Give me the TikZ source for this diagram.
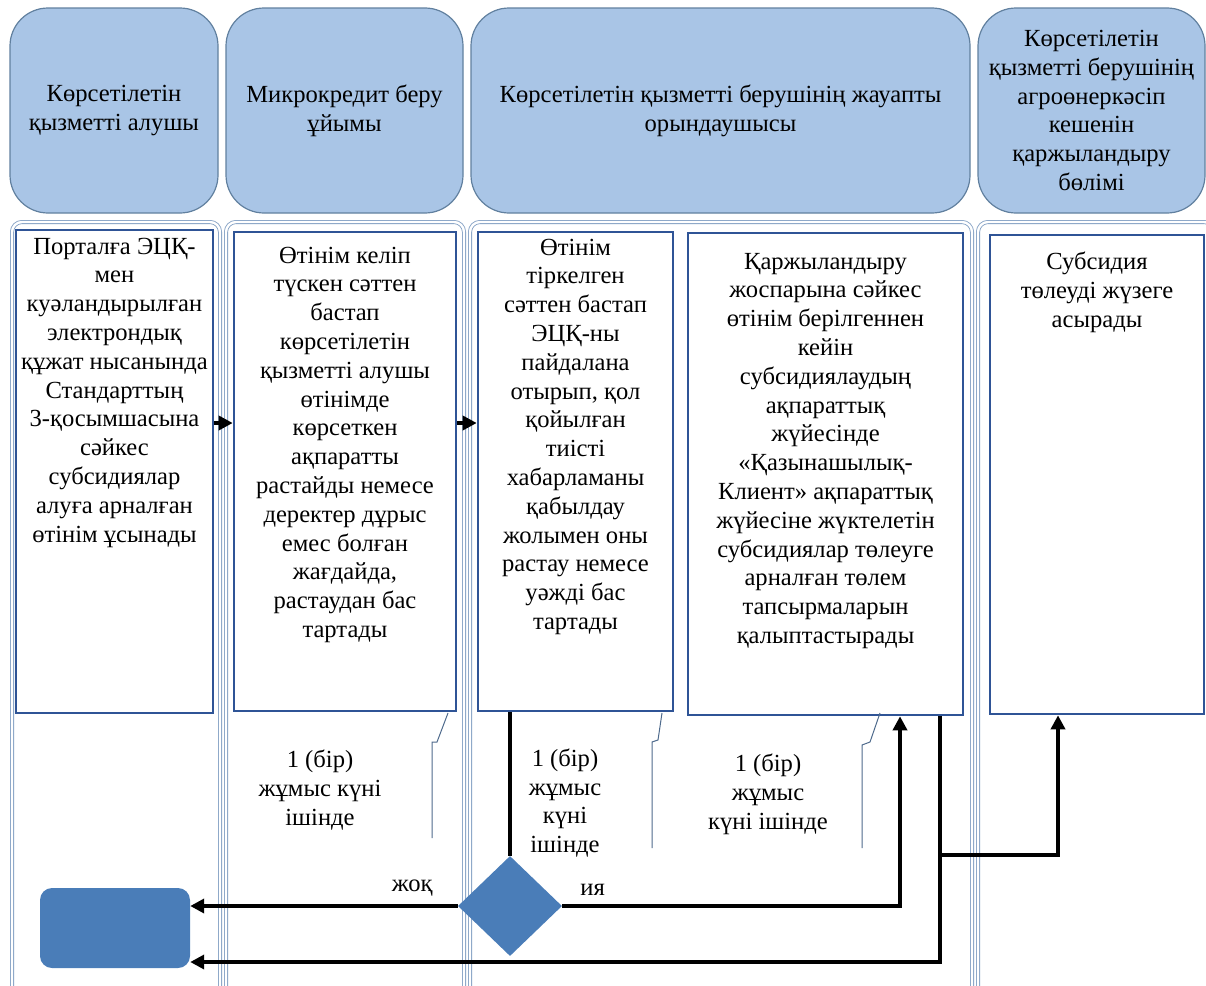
\documentclass[tikz,border=0pt]{standalone}
\usepackage{fontspec}
\setmainfont{Liberation Serif}
\newfontfamily\kzfont{Liberation Serif}
\usetikzlibrary{positioning,shapes.geometric,arrows.meta}

\definecolor{headfill}{HTML}{A9C5E6}
\definecolor{headline}{HTML}{61809F}
\definecolor{laneline}{HTML}{7F9DC2}
\definecolor{boxline}{HTML}{2F5496}
\definecolor{shapefill}{HTML}{4A7DB8}
\definecolor{calline}{HTML}{4E6A8C}

\tikzset{
  head/.style={draw=headline, line width=1.2pt, fill=headfill, rounded corners=38pt, align=center, inner sep=0pt},
  lane/.style={draw=laneline, line width=0.8pt, double=white, double distance=2.4pt, rounded corners=10pt},
  inbox/.style={draw=boxline, line width=2.6pt, fill=white, inner sep=0pt},
  txt/.style={align=center, inner sep=0pt},
  arr/.style={line width=3.6pt, -{Triangle[length=14pt,width=14pt]}},
  link/.style={line width=3.6pt},
  callout/.style={draw=calline, line width=1pt},
  endshape/.style={fill=shapefill, inner sep=0pt}
}

\begin{document}
\begin{tikzpicture}[x=1pt, y=-1pt, font=\kzfont\fontsize{24.6}{28.8}\selectfont]
    \useasboundingbox (0,0) rectangle (1206,985);
    \clip (0,0) rectangle (1206,985);
    % swim lanes
    \draw[lane] (12,222) rectangle (220,1010);
    \draw[lane] (226,222) rectangle (464,1010);
    \draw[lane] (470,222) rectangle (972,1010);
    \draw[lane] (978,222) rectangle (1214,1010);

    % lane heads
    \node[head, minimum width=208pt, minimum height=205pt] (h1) at (114,110.5) {Көрсетілетін\\қызметті алушы};
    \node[head, minimum width=237pt, minimum height=205pt] (h2) at (344.5,110.5) {Микрокредит беру\\ұйымы};
    \node[head, minimum width=499pt, minimum height=205pt] (h3) at (720.5,110.5) {Көрсетілетін қызметті берушінің жауапты\\орындаушысы};
    \node[head, minimum width=227pt, minimum height=205pt] (h4) at (1091.5,110.5) {Көрсетілетін\\қызметті берушінің\\агроөнеркәсіп\\кешенін\\қаржыландыру\\бөлімі};

    % steps
    \node[inbox, minimum width=197pt, minimum height=483pt] (a) at (114.5,471.5) {};
    \node[inbox, minimum width=222pt, minimum height=479pt] (b) at (345,471.5) {};
    \node[inbox, minimum width=195pt, minimum height=479pt] (c) at (575.5,471.5) {};
    \node[inbox, minimum width=275pt, minimum height=482pt] (d) at (825.5,474) {};
    \node[inbox, minimum width=214pt, minimum height=479pt] (e) at (1097,474.5) {};

    \node[txt, below=9pt of a.north] (at) {Порталға ЭЦҚ-\\мен\\куәландырылған\\электрондық\\құжат нысанында\\Стандарттың\\3-қосымшасына\\сәйкес\\субсидиялар\\алуға арналған\\өтінім ұсынады};
    \node[txt, below=16pt of b.north] (bt) {Өтінім келіп\\түскен сәттен\\бастап\\көрсетілетін\\қызметті алушы\\өтінімде\\көрсеткен\\ақпаратты\\растайды немесе\\деректер дұрыс\\емес болған\\жағдайда,\\растаудан бас\\тартады};
    \node[txt, below=8pt of c.north] (ct) {Өтінім\\тіркелген\\сәттен бастап\\ЭЦҚ-ны\\пайдалана\\отырып, қол\\қойылған\\тиісті\\хабарламаны\\қабылдау\\жолымен оны\\растау немесе\\уәжді бас\\тартады};
    \node[txt, below=21pt of d.north] (dt) {Қаржыландыру\\жоспарына сәйкес\\өтінім берілгеннен\\кейін\\субсидиялаудың\\ақпараттық\\жүйесінде\\«Қазынашылық-\\Клиент» ақпараттық\\жүйесіне жүктелетін\\субсидиялар төлеуге\\арналған төлем\\тапсырмаларын\\қалыптастырады};
    \node[txt, below=18pt of e.north] (et) {Субсидия\\төлеуді жүзеге\\асырады};

    \node[diamond, endshape, minimum width=104pt, minimum height=100pt] (dec) at (510,906) {};
    \node[endshape, rounded corners=12pt, minimum width=150pt, minimum height=80pt] (fin) at (115,928) {};

    % time
    \node[txt] (t1) at (320,790) {1 (бір)\\жұмыс күні\\ішінде};
    \node[txt] (t2) at (565,803) {1 (бір)\\жұмыс\\күні\\ішінде};
    \node[txt] (t3) at (768,794) {1 (бір)\\жұмыс\\күні ішінде};
    \draw[callout] (432,838) -- (432,742) -- (437,742) -- (448,713);
    \draw[callout] (652,848) -- (652,742) -- (658,740) -- (662,713);
    \draw[callout] (862,848) -- (862,745) -- (870,742) -- (880,713);

    % flow
    \coordinate (ab) at (0,423);
    \coordinate (low) at (0,962);
    \coordinate (br) at (940,855);
    \draw[arr] (a.east |- ab) -- (b.west |- ab);
    \draw[arr] (b.east |- ab) -- (c.west |- ab);
    \draw[link] (c.south -| dec.north) -- (dec.north);
    \draw[arr] (dec.west) -- (dec.west -| fin.east) node[pos=0.17, above=5pt] (no) {жоқ};
    \draw[arr] (dec.east) -| ([xshift=74.5pt]d.south) node[pos=0.045, above=5pt] (yes) {ия};
    \draw[arr] ([xshift=114.5pt]d.south) |- (fin.east |- low);
    \draw[arr] (br) -| ([xshift=-39pt]e.south);
\end{tikzpicture}
\end{document}
